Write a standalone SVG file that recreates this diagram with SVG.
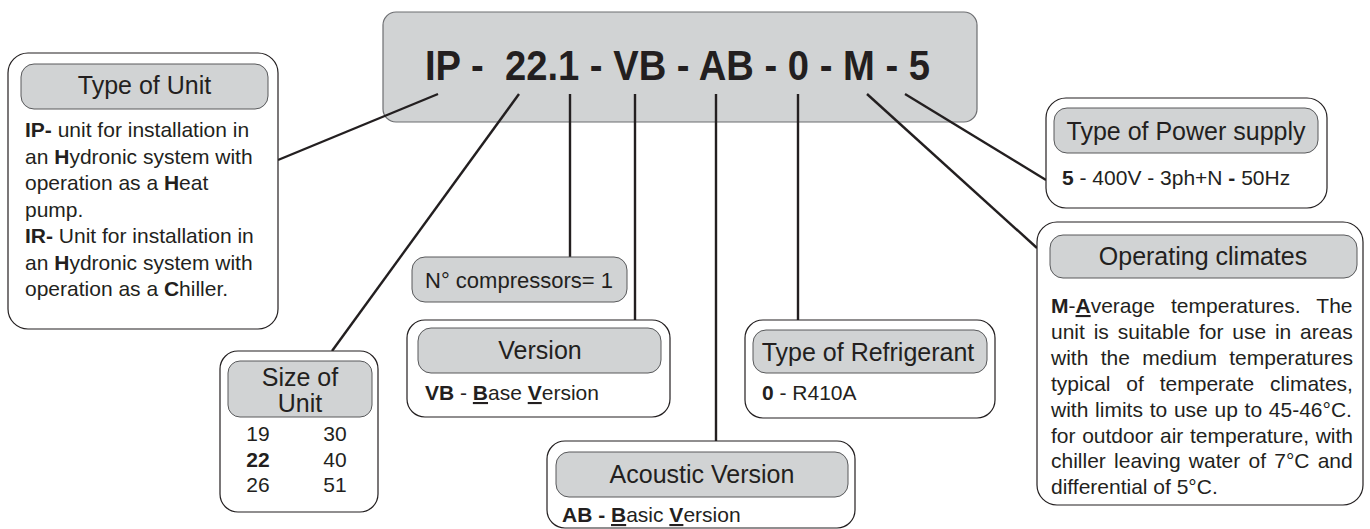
<svg xmlns="http://www.w3.org/2000/svg" width="1370" height="529" viewBox="0 0 1370 529">
<style>
text{font-family:"Liberation Sans",Arial,sans-serif;fill:#231f20}
.outer{fill:#fff;stroke:#231f20;stroke-width:1.2}
.hdr{fill:#d1d3d4;stroke:#58595b;stroke-width:1}
.title{font-size:25px;text-anchor:middle}
.body{font-size:21px}
.b{font-weight:bold}
.u{text-decoration:underline}
.conn line{stroke:#231f20;stroke-width:2.4;stroke-linecap:butt}
</style>
<rect width="1370" height="529" fill="#fff"/>

<g id="code">
<rect x="383" y="12" width="594" height="110" rx="13" fill="#d1d3d4" stroke="#6d6e71" stroke-width="1.2"/>
<text x="425" y="80" font-size="43" font-weight="bold" textLength="505" lengthAdjust="spacingAndGlyphs" xml:space="preserve">IP -  22.1 - VB - AB - 0 - M - 5</text>
</g>

<g id="connectors" class="conn">
<line x1="438" y1="94" x2="278" y2="160"/>
<line x1="519" y1="94" x2="332" y2="351"/>
<line x1="570" y1="94" x2="570" y2="257"/>
<line x1="635" y1="94" x2="635" y2="320"/>
<line x1="716" y1="94" x2="716" y2="441"/>
<line x1="798" y1="94" x2="798" y2="320"/>
<line x1="867" y1="94" x2="1037" y2="248"/>
<line x1="905" y1="94" x2="1046" y2="180"/>
</g>

<g id="type-of-unit">
<rect class="outer" x="8" y="53" width="270" height="276" rx="20"/>
<rect class="hdr" x="21" y="64" width="247" height="45" rx="13"/>
<text class="title" x="144.5" y="94">Type of Unit</text>
<text class="body" x="25" y="137"><tspan class="b">IP-</tspan> unit for installation in</text>
<text class="body" x="25" y="163.5">an <tspan class="b">H</tspan>ydronic system with</text>
<text class="body" x="25" y="190">operation as a <tspan class="b">H</tspan>eat</text>
<text class="body" x="25" y="216.5">pump.</text>
<text class="body" x="25" y="243"><tspan class="b">IR-</tspan> Unit for installation in</text>
<text class="body" x="25" y="269.5">an <tspan class="b">H</tspan>ydronic system with</text>
<text class="body" x="25" y="296">operation as a <tspan class="b">C</tspan>hiller.</text>
</g>

<g id="size-of-unit">
<rect class="outer" x="220" y="351" width="158" height="161" rx="18"/>
<rect class="hdr" x="228" y="361" width="144" height="56" rx="12"/>
<text class="title" x="300" y="386">Size of</text>
<text class="title" x="300" y="412">Unit</text>
<text class="body" x="258" y="441" text-anchor="middle">19</text>
<text class="body b" x="258" y="467" text-anchor="middle">22</text>
<text class="body" x="258" y="492" text-anchor="middle">26</text>
<text class="body" x="335" y="441" text-anchor="middle">30</text>
<text class="body" x="335" y="467" text-anchor="middle">40</text>
<text class="body" x="335" y="492" text-anchor="middle">51</text>
</g>

<g id="compressors">
<rect class="hdr" x="412" y="257" width="215" height="45" rx="13"/>
<text x="519" y="288" font-size="22" text-anchor="middle">N° compressors= 1</text>
</g>

<g id="version">
<rect class="outer" x="407" y="320" width="263" height="97" rx="18"/>
<rect class="hdr" x="418" y="328" width="243" height="45" rx="13"/>
<text class="title" x="540" y="359">Version</text>
<text class="body" x="425" y="400"><tspan class="b">VB</tspan> - <tspan class="b u">B</tspan>ase <tspan class="b u">V</tspan>ersion</text>
</g>

<g id="acoustic">
<rect class="outer" x="547" y="441" width="308" height="87" rx="18"/>
<rect class="hdr" x="556" y="452" width="292" height="45" rx="13"/>
<text class="title" x="702" y="483">Acoustic Version</text>
<text class="body" x="562" y="522"><tspan class="b">AB - </tspan><tspan class="b u">B</tspan>asic <tspan class="b u">V</tspan>ersion</text>
</g>

<g id="refrigerant">
<rect class="outer" x="745" y="320" width="250" height="98" rx="18"/>
<rect class="hdr" x="753" y="330" width="234" height="43" rx="13"/>
<text class="title" x="868" y="361">Type of Refrigerant</text>
<text class="body" x="762" y="400"><tspan class="b">0</tspan> - R410A</text>
</g>

<g id="power-supply">
<rect class="outer" x="1046" y="98" width="281" height="110" rx="20"/>
<rect class="hdr" x="1054" y="108" width="264" height="45" rx="13"/>
<text class="title" x="1186" y="140">Type of Power supply</text>
<text class="body" x="1062" y="185"><tspan class="b">5</tspan> - 400V - 3ph+N <tspan class="b">-</tspan> 50Hz</text>
</g>

<g id="operating-climates">
<rect class="outer" x="1037" y="222" width="326" height="283" rx="20"/>
<rect class="hdr" x="1050" y="235" width="307" height="43" rx="13"/>
<text class="title" x="1203" y="265">Operating climates</text>
<text class="body" x="1051" y="313" word-spacing="10.3"><tspan class="b">M</tspan>-<tspan class="b u">A</tspan>verage temperatures. The</text>
<text class="body" x="1051" y="339" word-spacing="3">unit is suitable for use in areas</text>
<text class="body" x="1051" y="365" word-spacing="6.5">with the medium temperatures</text>
<text class="body" x="1051" y="391" word-spacing="10">typical of temperate climates,</text>
<text class="body" x="1051" y="417" word-spacing="0.9">with limits to use up to 45-46°C.</text>
<text class="body" x="1051" y="443" word-spacing="0.8">for outdoor air temperature, with</text>
<text class="body" x="1051" y="468" word-spacing="2.4">chiller leaving water of 7°C and</text>
<text class="body" x="1051" y="494">differential of 5°C.</text>
</g>
</svg>
